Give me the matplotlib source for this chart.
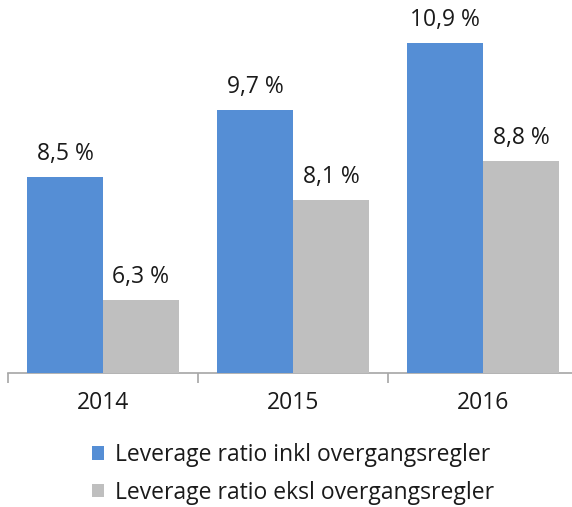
import matplotlib
matplotlib.use("Agg")
import matplotlib.pyplot as plt
import matplotlib.patches as mpatches
import numpy as np

# ── Data ──────────────────────────────────────────────────────────────────────
YEARS = ["2014", "2015", "2016"]
INKL = [8.5, 9.7, 10.9]
EKSL = [6.3, 8.1, 8.8]
SERIES = ["Leverage ratio inkl overgangsregler",
          "Leverage ratio eksl overgangsregler"]

BLUE = "#558ed5"
GREY = "#bfbfbf"
TEXT = "#1a1a1a"
AXIS = "#a6a6a6"
FS = 16.5

plt.rcParams.update({
    "font.family": ["Open Sans", "DejaVu Sans"],
})

W, H = 572, 507
fig = plt.figure(figsize=(W / 100, H / 100), dpi=100)
fig.set_facecolor("white")

# axes: x from 8px to 578px, baseline at 372.7px from top, top at figure top
left = 8 / W
bottom = (H - 372.7) / H
ax = fig.add_axes([left, bottom, 570 / W, 1 - bottom])

x = np.arange(len(YEARS))
bw = 0.4
ax.bar(x - bw / 2, INKL, width=bw, color=BLUE, linewidth=0, zorder=3)
ax.bar(x + bw / 2, EKSL, width=bw, color=GREY, linewidth=0, zorder=3)

scale = 55.8  # px per unit
ymin = 5.0
ymax = ymin + 372.7 / scale
ax.set_ylim(ymin, ymax)
ax.set_xlim(-0.5, len(YEARS) - 0.5)

# value labels
off = 23 / scale
for xi, v in zip(x - bw / 2, INKL):
    ax.text(xi, v + off, f"{v:.1f} %".replace(".", ","), ha="center",
            va="center", fontsize=FS, color=TEXT)
for xi, v in zip(x + bw / 2, EKSL):
    ax.text(xi, v + off, f"{v:.1f} %".replace(".", ","), ha="center",
            va="center", fontsize=FS, color=TEXT)

# axes styling
for s in ["top", "right", "left"]:
    ax.spines[s].set_visible(False)
ax.spines["bottom"].set_color(AXIS)
ax.spines["bottom"].set_linewidth(1.2)
ax.set_yticks([])
ax.set_xticks(x)
ax.set_xticklabels(YEARS, fontsize=FS, color=TEXT)
ax.tick_params(axis="x", which="major", length=0, pad=13)
ax.set_xticks(np.arange(len(YEARS) + 1) - 0.5, minor=True)
ax.tick_params(axis="x", which="minor", length=7, width=1.2, color=AXIS,
               direction="out")

# legend
handles = [mpatches.Patch(facecolor=BLUE, label=SERIES[0], linewidth=0),
           mpatches.Patch(facecolor=GREY, label=SERIES[1], linewidth=0)]
fig.legend(handles=handles, loc="center left",
           bbox_to_anchor=(92 / W, 1 - 474 / H), frameon=False,
           fontsize=FS, handlelength=0.52, handleheight=0.52,
           handletextpad=0.48, labelspacing=0.6, labelcolor=TEXT,
           borderaxespad=0, borderpad=0)

fig.savefig("out.png", dpi=100, facecolor="white")
